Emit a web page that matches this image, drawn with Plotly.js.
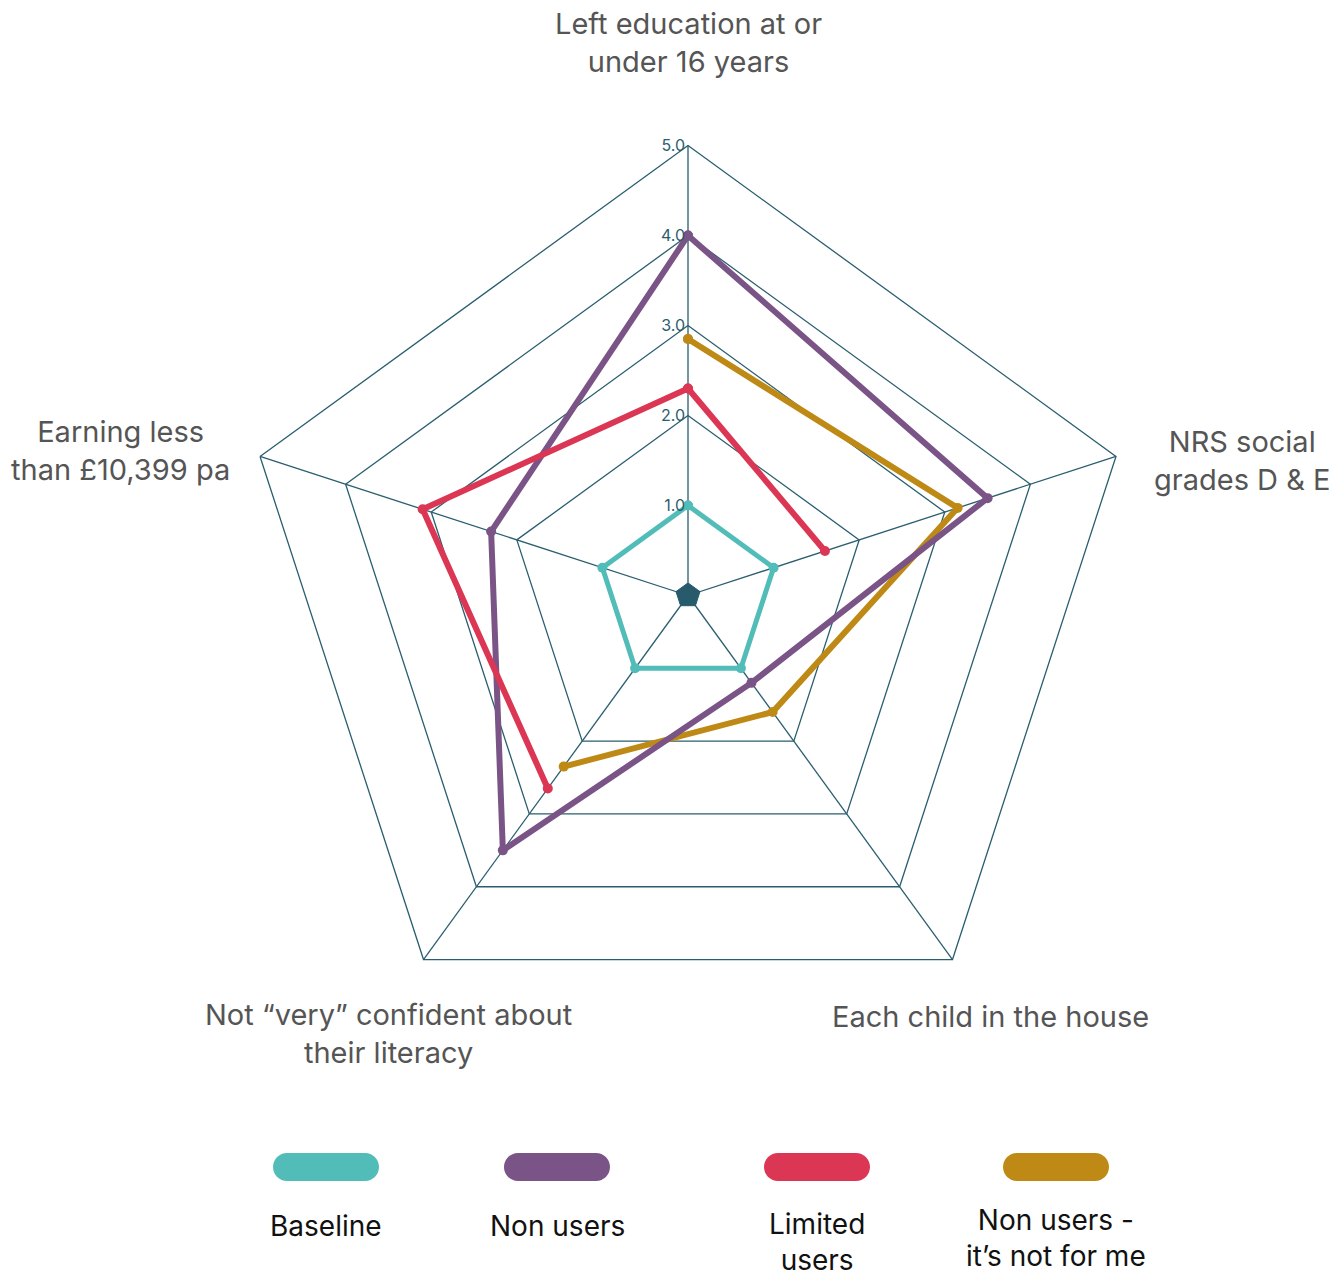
<!DOCTYPE html>
<html>
<head>
<meta charset="utf-8">
<script src="https://cdn.plot.ly/plotly-3.0.1.min.js"></script>
<style>html,body{margin:0;padding:0;background:#fff;}#chart{width:1331px;height:1276px;}</style>
</head>
<body>
<div id="chart"></div>
<script>
// ---- data ----
const categories = ['Left education at or under 16 years', 'NRS social grades D & E', 'Each child in the house', 'Not “very” confident about their literacy', 'Earning less than £10,399 pa'];
const categoryLabels = ['Left education at or<br>under 16 years', 'NRS social<br>grades D & E', 'Each child in the house', 'Not “very” confident about<br>their literacy', 'Earning less<br>than £10,399 pa'];
const seriesNames = ['Baseline', 'Non users', 'Limited users', 'Non users - it’s not for me'];
const legendLabels = ['Baseline', 'Non users', 'Limited<br>users', 'Non users -<br>it’s not for me'];
const baseline = [1.0, 1.0, 1.0, 1.0, 1.0];
const nonUsers = [4.0, 3.5, 1.2, 3.5, 2.3];
const limitedUsers = [2.3, 1.6, null, 2.65, 3.1];
const notForMe = [2.85, 3.15, 1.6, 2.35, null];
const centreMark = [0.14, 0.14, 0.14, 0.14, 0.14];
const radialTicks = [1, 2, 3, 4, 5];

// ---- styling ----
const W = 1331, H = 1276;
const gridColor = '#2a5e6f';
const colors = ['#52bdb8', '#7a5486', '#dc3655', '#be8915'];
const FONT = 'Inter, "Noto Sans", sans-serif';

function closed(a) { return a.concat([a[0]]); }
const thetaClosed = closed(categories);

function lineTrace(r, name, color, width) {
  return {
    type: 'scatterpolar', r: closed(r), theta: thetaClosed, name: name,
    mode: 'lines+markers', connectgaps: false,
    line: {color: color, width: width},
    marker: {color: color, size: 10},
    showlegend: false, hoverinfo: 'name+r+theta'
  };
}

const data = [
  {type: 'scatterpolar', r: closed(centreMark), theta: thetaClosed, mode: 'lines',
   fill: 'toself', fillcolor: '#275a6b', line: {color: '#275a6b', width: 1}, showlegend: false, hoverinfo: 'skip'},
  lineTrace(baseline, seriesNames[0], colors[0], 5),
  lineTrace(notForMe, seriesNames[3], colors[3], 6),
  lineTrace(nonUsers, seriesNames[1], colors[1], 6),
  lineTrace(limitedUsers, seriesNames[2], colors[2], 6)
];

// polar geometry (pixels)
const cx = 688, cy = 595.5, R = 450;
const px = x => x / W, py = y => 1 - y / H;

// category label annotations
const labelPos = [[688, 43], [1242, 460], [990, 1016], [388, 1033], [120, 450]];
const annotations = categoryLabels.map((t, i) => ({
  text: t, x: px(labelPos[i][0]), y: py(labelPos[i][1]), xref: 'paper', yref: 'paper',
  xanchor: 'center', yanchor: 'middle', showarrow: false, align: 'center',
  font: {family: FONT, size: 29, color: '#555555'}
}));

// legend: pills + labels
const legendX = [326, 557, 817, 1056];
const legendTextY = [1226, 1226, 1242, 1238];
function pill(x0, y0, w, h) {
  const r = h / 2, k = 0.5523;
  const xl = x0 - w / 2 + r, xr = x0 + w / 2 - r, yt = y0 - r, yb = y0 + r;
  const P = (x, y) => px(x).toFixed(5) + ',' + py(y).toFixed(5);
  return 'M' + P(xl, yt) + ' L' + P(xr, yt) +
    ' C' + P(xr + k * r, yt) + ' ' + P(xr + r, y0 - k * r) + ' ' + P(xr + r, y0) +
    ' C' + P(xr + r, y0 + k * r) + ' ' + P(xr + k * r, yb) + ' ' + P(xr, yb) +
    ' L' + P(xl, yb) +
    ' C' + P(xl - k * r, yb) + ' ' + P(xl - r, y0 + k * r) + ' ' + P(xl - r, y0) +
    ' C' + P(xl - r, y0 - k * r) + ' ' + P(xl - k * r, yt) + ' ' + P(xl, yt) + ' Z';
}
const shapes = seriesNames.map((n, i) => ({
  type: 'path', xref: 'paper', yref: 'paper', path: pill(legendX[i], 1167, 106, 28),
  fillcolor: colors[i], line: {width: 0}
}));
seriesNames.forEach((n, i) => {
  annotations.push({
    text: legendLabels[i], x: px(legendX[i]), y: py(legendTextY[i]), xref: 'paper', yref: 'paper',
    xanchor: 'center', yanchor: 'middle', showarrow: false, align: 'center',
    font: {family: FONT, size: 28, color: '#111111'}
  });
});

const layout = {
  width: W, height: H,
  margin: {l: 0, r: 0, t: 0, b: 0},
  paper_bgcolor: '#ffffff',
  font: {family: FONT},
  showlegend: false,
  polar: {
    domain: {x: [px(cx - R), px(cx + R)], y: [py(cy + R), py(cy - R)]},
    bgcolor: 'rgba(0,0,0,0)',
    gridshape: 'linear',
    angularaxis: {
      type: 'category', categoryarray: categories, direction: 'clockwise', rotation: 90,
      showticklabels: false, ticks: '', showline: true, linecolor: gridColor, linewidth: 1.3,
      showgrid: true, gridcolor: gridColor, gridwidth: 1.3
    },
    radialaxis: {
      range: [0, 5], tickvals: radialTicks, tickformat: '.1f', ticks: '', showline: false,
      angle: 90, tickangle: 90, side: 'counterclockwise',
      showgrid: true, gridcolor: gridColor, gridwidth: 1.3,
      tickfont: {family: FONT, size: 16, color: gridColor}
    }
  },
  annotations: annotations,
  shapes: shapes
};

Plotly.newPlot('chart', data, layout, {displayModeBar: false, staticPlot: true});
</script>
</body>
</html>
